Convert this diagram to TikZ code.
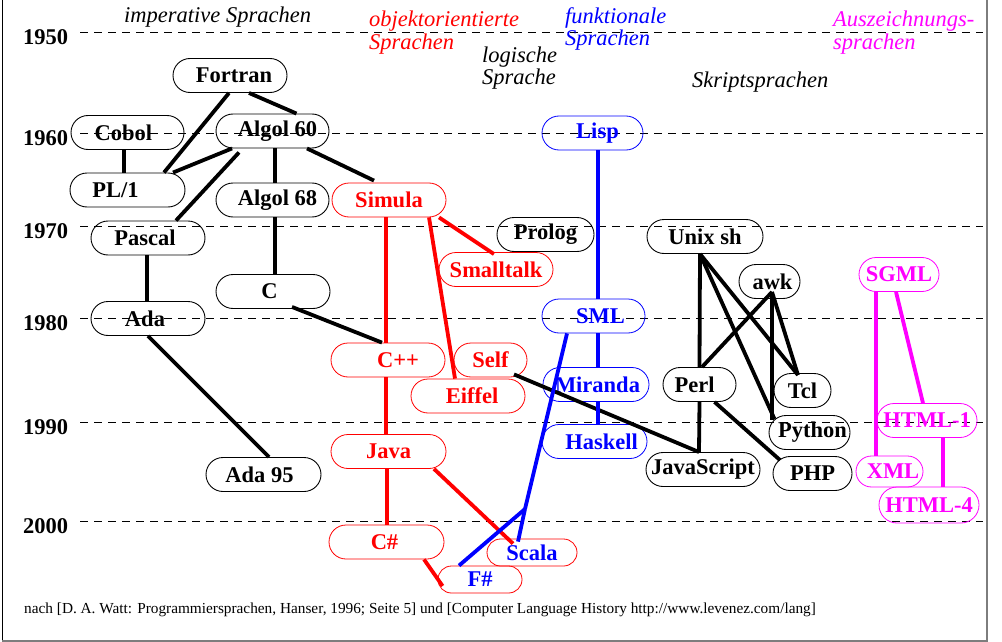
\documentclass[tikz,border=0pt]{standalone}
\usepackage{fontspec}
\setmainfont{Liberation Serif}
\definecolor{oored}{RGB}{255,0,0}
\definecolor{fnblue}{RGB}{0,0,255}
\definecolor{mkmag}{RGB}{255,0,255}
\definecolor{framegray}{RGB}{125,125,125}
\newcommand\langfont{\fontsize{22.5}{24}\selectfont\bfseries}
\newcommand\catfont{\fontsize{22.5}{24}\selectfont\itshape}
\newcommand\twolines[3]{\vtop{\baselineskip=#1\hbox{#2}\hbox{#3}}}
\begin{document}
\begin{tikzpicture}[x=1pt,y=-1pt,
  lang/.style={draw, line width=0.9pt, rounded corners=17pt, minimum height=34pt, inner sep=0pt, font=\langfont},
  oo/.style={draw=oored, text=oored, line width=0.8pt},
  fn/.style={draw=fnblue, text=fnblue, line width=0.8pt},
  mk/.style={draw=mkmag, text=mkmag, line width=0.8pt},
  smallbox/.style={rounded corners=13.5pt, minimum height=27pt},
  edge/.style={line width=3.8pt},
  yearline/.style={dash pattern=on 8pt off 6pt, line width=1pt},
  yearlab/.style={anchor=base west, font=\langfont, inner sep=0pt},
  cat/.style={anchor=base west, inner sep=0pt, font=\catfont},
]
\useasboundingbox (0,0) rectangle (1002,642);
\fill[white] (0,0) rectangle (1002,642);
% frame
\draw[line width=1pt] (2.5,0) -- (2.5,640);
\draw[framegray, line width=2pt] (2,640.5) -- (987.5,640.5);
\draw[framegray, line width=2pt] (986.5,0) -- (986.5,641.5);

% year lines and labels
\foreach \yy/\lab in {33/1950,133/1960,226/1970,318/1980,422/1990,521/2000}{
  \draw[yearline] (80,\yy) -- (983,\yy);
  \node[yearlab] at (23,\yy+12) {\lab};
}

% category labels
\node[cat] (imp) at (124,23) {imperative Sprachen};
\node[cat, text=oored] (ooc) at (369,27) {\twolines{23pt}{objektorientierte}{Sprachen}};
\node[cat] (logc) at (482,63) {\twolines{19pt}{logische}{Sprache}};
\node[cat, text=fnblue] (fnc) at (565,24) {\twolines{19pt}{funktionale}{Sprachen}};
\node[cat, text=mkmag] (mkc) at (833,27) {\twolines{23pt}{Auszeichnungs-}{sprachen}};
\node[cat] (skc) at (692,88) {Skriptsprachen};

% imperative
\node[lang, minimum width=114pt] (fortran) at (230,75.5) {\hspace*{8pt}Fortran};
\node[lang, minimum width=113pt] (cobol) at (127.5,132.5) {Cobol\hspace*{8pt}};
\node[lang, minimum width=113pt] (algolsixty) at (272.5,131) {\hspace*{10pt}Algol 60};
\node[lang, minimum width=115pt] (plone) at (127.5,190) {PL/1\hspace*{24pt}};
\node[lang, minimum width=113pt] (algolsixtyeight) at (272.5,200) {\hspace*{10pt}Algol 68};
\node[lang, minimum width=114pt] (pascal) at (148,238) {Pascal\hspace*{6pt}};
\node[lang, minimum width=114pt] (c) at (273,291.5) {C\hspace*{7pt}};
\node[lang, minimum width=114pt] (ada) at (148,318.5) {Ada\hspace*{6pt}};
\node[lang, minimum width=115pt] (adanf) at (263.5,474.5) {Ada 95\hspace*{8pt}};
% logic
\node[lang, minimum width=97pt] (prolog) at (545.5,234.5) {Prolog};
% object oriented
\node[lang, oo, minimum width=114pt] (simula) at (389,200) {Simula};
\node[lang, oo, minimum width=114pt] (smalltalk) at (496,269.5) {Smalltalk};
\node[lang, oo, minimum width=114pt] (cpp) at (388,360) {\hspace*{20pt}C++};
\node[lang, oo, minimum width=73pt] (self) at (490.5,360) {Self};
\node[lang, oo, minimum width=114pt] (eiffel) at (468,396) {\hspace*{8pt}Eiffel};
\node[lang, oo, minimum width=115pt] (java) at (388.5,451.5) {Java};
\node[lang, oo, minimum width=115pt] (csharp) at (386.5,542) {C\#\hspace*{4pt}};
\node[lang, oo, smallbox, text=fnblue, minimum width=90pt] (scala) at (532,552.5) {Scala};
\node[lang, oo, smallbox, text=fnblue, minimum width=84pt] (fsharp) at (480,579.5) {F\#};
% functional
\node[lang, fn, minimum width=101pt] (lisp) at (592.5,133) {\hspace*{10pt}Lisp};
\node[lang, fn, minimum width=103pt] (sml) at (593.5,316) {\hspace*{14pt}SML};
\node[lang, fn, minimum width=106pt] (miranda) at (596,384.5) {\hspace*{3pt}Miranda};
\node[lang, fn, minimum width=105pt] (haskell) at (594.5,441.5) {\hspace*{14pt}Haskell};
% scripting
\node[lang, minimum width=116pt] (unixsh) at (705,236.5) {Unix sh};
\node[lang, minimum width=61pt] (awk) at (769.5,281.5) {\hspace*{6pt}awk};
\node[lang, minimum width=73pt] (perl) at (699.5,384.5) {Perl\hspace*{10pt}};
\node[lang, minimum width=57pt] (tcl) at (802.5,390.5) {Tcl};
\node[lang, minimum width=81pt] (python) at (809.5,432.5) {\hspace*{6pt}Python};
\node[lang, minimum width=114pt] (javascript) at (703,469.5) {JavaScript};
\node[lang, minimum width=79pt] (php) at (812.5,473.5) {PHP};
% markup
\node[lang, mk, minimum width=80pt] (sgml) at (899,274.5) {SGML};
\node[lang, mk, minimum width=100pt] (htmlone) at (927,420.5) {HTML-1};
\node[lang, mk, minimum width=67pt, minimum height=31pt, rounded corners=15.5pt] (xml) at (889.5,471.5) {\hspace*{7pt}XML};
\node[lang, mk, minimum width=100pt, minimum height=36pt, rounded corners=18pt] (htmlfour) at (929,505) {HTML-4};

% connectors, imperative
\draw[edge] ([xshift=-1pt]fortran.south) -- ([xshift=36.5pt]plone.north);
\draw[edge] ([xshift=19pt]fortran.south) -- ([xshift=24pt]algolsixty.north);
\draw[edge] ([xshift=-3.5pt]cobol.south) -- ([xshift=-3.5pt]plone.north);
\draw[edge] ([xshift=-40.5pt]algolsixty.south) -- ([xshift=45.5pt]plone.north);
\draw[edge] ([xshift=-33.5pt,yshift=-4pt]algolsixty.south) -- ([xshift=28pt]pascal.north);
\draw[edge] ([xshift=2.5pt]algolsixty.south) -- ([xshift=2.5pt]algolsixtyeight.north);
\draw[edge] ([xshift=34.5pt]algolsixty.south) -- ([xshift=-15pt,yshift=2pt]simula.north);
\draw[edge] ([xshift=2.5pt]algolsixtyeight.south) -- ([xshift=2pt]c.north);
\draw[edge] ([xshift=-1pt]pascal.south) -- ([xshift=-1pt]ada.north);
\draw[edge] (ada.south) -- ([xshift=5.5pt]adanf.north);
\draw[edge] ([xshift=19pt,yshift=2pt]c.south) -- ([xshift=-6pt]cpp.north);
\draw[edge] ([xshift=23.5pt,yshift=3pt]self.south) -- ([xshift=-4pt]javascript.north);
% scripting
\draw[edge] ([xshift=-5pt]unixsh.south) -- (perl.north);
\draw[edge] ([xshift=-5pt]unixsh.south) -- ([xshift=-4.5pt,yshift=-2pt]tcl.north);
\draw[edge] ([xshift=-5pt]unixsh.south) -- ([xshift=-35pt,yshift=-4pt]python.north);
\draw[edge] ([xshift=2.5pt,yshift=7pt]awk.south) -- ([xshift=2.5pt]perl.north);
\draw[edge] ([xshift=2.5pt,yshift=7pt]awk.south) -- ([xshift=-4.5pt,yshift=-2pt]tcl.north);
\draw[edge] ([xshift=2.5pt,yshift=7pt]awk.south) -- ([xshift=-37.5pt,yshift=-5pt]python.north);
\draw[edge] (perl.south) -- ([xshift=-4pt]javascript.north);
\draw[edge] ([xshift=15pt]perl.south) -- ([xshift=-32.5pt,yshift=-4pt]php.north);
% object oriented
\draw[edge, oored] ([xshift=-3pt]simula.south) -- ([xshift=-2pt]cpp.north);
\draw[edge, oored] ([xshift=40pt]simula.south) -- ([xshift=-13pt]eiffel.north);
\draw[edge, oored] ([xshift=50pt]simula.south) -- ([xshift=-2pt,yshift=-2pt]smalltalk.north);
\draw[edge, oored] ([xshift=-2pt]cpp.south) -- ([xshift=-2.5pt]java.north);
\draw[edge, oored] ([xshift=-1.5pt]java.south) -- ([xshift=0.5pt]csharp.north);
\draw[edge, oored] ([xshift=45.5pt]java.south) -- ([xshift=-19pt,yshift=-5pt]scala.north);
\draw[edge, oored] ([xshift=37.5pt]csharp.south) -- ([xshift=5pt,yshift=-6.5pt]fsharp.west);
% functional
\coordinate (join) at (525,509);
\draw[edge, fnblue] ([xshift=5.5pt]lisp.south) -- ([xshift=4.5pt]sml.north);
\draw[edge, fnblue] ([xshift=4.5pt]sml.south) -- ([xshift=2pt]miranda.north);
\draw[edge, fnblue] ([xshift=2pt]miranda.south) -- ([xshift=3.5pt]haskell.north);
\draw[edge, fnblue] ([xshift=-26.5pt]sml.south) -- (join);
\draw[edge, fnblue] (join) -- ([xshift=-21pt]fsharp.north);
\draw[edge, fnblue] (join) -- ([xshift=-14pt,yshift=-3pt]scala.north);
% markup
\draw[edge, mkmag] ([xshift=-23pt]sgml.south) -- ([xshift=-13.5pt]xml.north);
\draw[edge, mkmag] ([xshift=-3pt]sgml.south) -- ([xshift=-4pt]htmlone.north);
\draw[edge, mkmag] ([xshift=16pt]htmlone.south) -- ([xshift=14pt]htmlfour.north);

% source
\node[anchor=base west, inner sep=0pt, font=\fontsize{15.3}{17}\selectfont] (src) at (24,613)
  {nach [D. A. Watt: Programmiersprachen, Hanser, 1996; Seite 5] und [Computer Language History http://www.levenez.com/lang]};
\end{tikzpicture}
\end{document}
